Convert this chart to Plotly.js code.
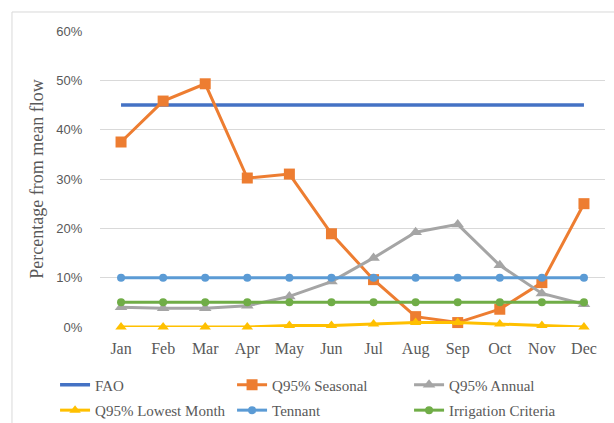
<!DOCTYPE html>
<html><head><meta charset="utf-8">
<script src="https://cdn.plot.ly/plotly-3.0.1.min.js"></script>
<style>html,body{margin:0;padding:0;background:#fff;}#chart{width:614px;height:423px;}</style>
</head><body><div id="chart"></div>
<script>
const months = ["Jan","Feb","Mar","Apr","May","Jun","Jul","Aug","Sep","Oct","Nov","Dec"];
const fao = [45,45,45,45,45,45,45,45,45,45,45,45];
const q95Seasonal = [37.5,45.8,49.3,30.2,31.0,18.9,9.6,2.1,0.9,3.6,9.0,25.0];
const q95Annual = [4.0,3.8,3.8,4.3,6.2,9.2,14.0,19.2,20.8,12.5,6.8,4.6];
const q95Lowest = [0,0,0,0,0.3,0.3,0.6,0.9,0.9,0.6,0.3,0];
const tennant = [10,10,10,10,10,10,10,10,10,10,10,10];
const irrigation = [5,5,5,5,5,5,5,5,5,5,5,5];
const yTicks = [0,10,20,30,40,50,60];

const common = {type:'scatter', x: months, cliponaxis:false};
const traces = [
  Object.assign({}, common, {name:'FAO', y:fao, mode:'lines', line:{color:'#4472C4', width:3.5}, legend:'legend'}),
  Object.assign({}, common, {name:'Q95% Seasonal', y:q95Seasonal, mode:'lines+markers', line:{color:'#ED7D31', width:3}, marker:{symbol:'square', size:11, color:'#ED7D31'}, legend:'legend'}),
  Object.assign({}, common, {name:'Q95% Annual', y:q95Annual, mode:'lines+markers', line:{color:'#A5A5A5', width:3}, marker:{symbol:'triangle-up', size:11, color:'#A5A5A5'}, legend:'legend'}),
  Object.assign({}, common, {name:'Q95% Lowest Month', y:q95Lowest, mode:'lines+markers', line:{color:'#FFC000', width:3}, marker:{symbol:'triangle-up', size:10, color:'#FFC000'}, legend:'legend2'}),
  Object.assign({}, common, {name:'Tennant', y:tennant, mode:'lines+markers', line:{color:'#5B9BD5', width:3}, marker:{symbol:'circle', size:8, color:'#5B9BD5'}, legend:'legend2'}),
  Object.assign({}, common, {name:'Irrigation Criteria', y:irrigation, mode:'lines+markers', line:{color:'#70AD47', width:3}, marker:{symbol:'circle', size:8, color:'#70AD47'}, legend:'legend2'})
];

const legFont = {family:'"Liberation Serif", "Times New Roman", serif', size:15, color:'#595959'};
const layout = {
  width:614, height:423,
  margin:{l:100, r:9, t:31, b:96, autoexpand:false},
  paper_bgcolor:'#fff', plot_bgcolor:'#fff',
  showlegend:true,
  xaxis:{
    range:[-0.5,11.5], showgrid:false, zeroline:false, showline:false,
    ticks:'outside', ticklen:7, tickcolor:'rgba(0,0,0,0)',
    tickfont:{family:'"Liberation Serif", "Times New Roman", serif', size:16, color:'#595959'},
    fixedrange:true
  },
  yaxis:{
    range:[0,60], tickvals:yTicks, ticktext:yTicks.map(v=>v+'%'),
    showgrid:true, gridcolor:'#d9d9d9', gridwidth:1, zeroline:false, showline:false,
    ticks:'outside', ticklen:14, tickcolor:'rgba(0,0,0,0)',
    tickfont:{family:'"Liberation Sans", Arial, sans-serif', size:13, color:'#595959'},
    title:{text:'Percentage from mean flow', standoff:8, font:{family:'"Liberation Serif", "Times New Roman", serif', size:18, color:'#595959'}},
    fixedrange:true
  },
  legend:{orientation:'h', x:-0.089, xanchor:'left', y:-0.14, yanchor:'top', font:legFont, entrywidth:132, entrywidthmode:'pixels', bgcolor:'rgba(0,0,0,0)', itemclick:false},
  legend2:{orientation:'h', x:-0.089, xanchor:'left', y:-0.226, yanchor:'top', font:legFont, entrywidth:132, entrywidthmode:'pixels', bgcolor:'rgba(0,0,0,0)', itemclick:false},
  shapes:[
    {type:'line', xref:'paper', yref:'paper', x0:-0.1743, x1:-0.1743, y0:-0.34, y1:1.0642, line:{color:'#d9d9d9', width:1}},
    {type:'line', xref:'paper', yref:'paper', x0:-0.1743, x1:1.03, y0:1.0642, y1:1.0642, line:{color:'#d9d9d9', width:1}}
  ]
};
Plotly.newPlot('chart', traces, layout, {displayModeBar:false, staticPlot:true});
</script></body></html>
